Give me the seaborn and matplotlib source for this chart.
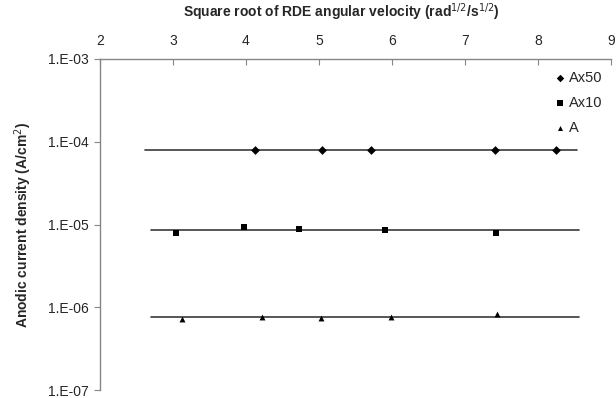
import matplotlib
matplotlib.use("Agg")
import matplotlib.pyplot as plt
import matplotlib.ticker as mticker
import numpy as np
import pandas as pd
import seaborn as sns

# Measured anodic current densities vs sqrt(omega)
series_names = ["Ax50", "Ax10", "A"]
sqrt_omega_ax50 = [4.13, 5.04, 5.71, 7.41, 8.24]
current_ax50 = [7.9e-5, 7.9e-5, 7.9e-5, 7.9e-5, 7.9e-5]
sqrt_omega_ax10 = [3.04, 3.97, 4.73, 5.90, 7.42]
current_ax10 = [8.0e-6, 9.2e-6, 8.8e-6, 8.5e-6, 7.9e-6]
sqrt_omega_a = [3.12, 4.22, 5.03, 5.99, 7.44]
current_a = [7.2e-7, 7.6e-7, 7.4e-7, 7.6e-7, 8.3e-7]

# Horizontal trend lines (x extent and level)
trend_x_ax50 = [2.62, 8.53]
trend_y_ax50 = [7.9e-5, 7.9e-5]
trend_x_ax10 = [2.70, 8.56]
trend_y_ax10 = [8.5e-6, 8.5e-6]
trend_x_a = [2.70, 8.56]
trend_y_a = [7.7e-7, 7.7e-7]

x_ticks = [2, 3, 4, 5, 6, 7, 8, 9]
y_ticks = [1e-7, 1e-6, 1e-5, 1e-4, 1e-3]

sns.set_theme(style="white")
plt.rcParams["font.family"] = ["Liberation Sans", "DejaVu Sans"]

points = pd.concat([
    pd.DataFrame({"x": sqrt_omega_ax50, "y": current_ax50, "series": "Ax50"}),
    pd.DataFrame({"x": sqrt_omega_ax10, "y": current_ax10, "series": "Ax10"}),
    pd.DataFrame({"x": sqrt_omega_a, "y": current_a, "series": "A"}),
], ignore_index=True)

trends = pd.concat([
    pd.DataFrame({"x": trend_x_ax50, "y": trend_y_ax50, "series": "Ax50"}),
    pd.DataFrame({"x": trend_x_ax10, "y": trend_y_ax10, "series": "Ax10"}),
    pd.DataFrame({"x": trend_x_a, "y": trend_y_a, "series": "A"}),
], ignore_index=True)

fig = plt.figure(figsize=(6.16, 3.98), dpi=100)
ax = fig.add_axes([100 / 616, 1 - 390 / 398, 511 / 616, 331 / 398])
ax.set_yscale("log")

sns.lineplot(data=trends, x="x", y="y", units="series", estimator=None,
             color="#3a3a3a", linewidth=1.2, legend=False, ax=ax, zorder=2)

marker_map = {"Ax50": "D", "Ax10": "s", "A": "^"}
size_map = {"Ax50": 20, "Ax10": 22, "A": 18}
for name in series_names:
    sub = points[points["series"] == name]
    sns.scatterplot(data=sub, x="x", y="y", marker=marker_map[name],
                    s=size_map[name], color="black", edgecolor="black",
                    linewidth=0, label=name, ax=ax, zorder=3)

ax.set_xlim(2, 9)
ax.set_ylim(1e-7, 1e-3)
ax.set_xticks(x_ticks)
ax.set_xticklabels([str(t) for t in x_ticks])
ax.set_yticks(y_ticks)
ax.yaxis.set_major_formatter(mticker.FuncFormatter(
    lambda v, p: "1.E-%02d" % int(round(-np.log10(v)))))
ax.yaxis.set_minor_locator(mticker.NullLocator())

ax.xaxis.set_label_position("top")
ax.xaxis.tick_top()
ax.tick_params(axis="x", direction="in", length=4, width=0.8, color="#868686",
               labelsize=10, pad=8, top=True, bottom=False)
ax.tick_params(axis="y", direction="out", length=4, width=0.8, color="#868686",
               labelsize=10, pad=4, left=True)

for side in ["right", "bottom"]:
    ax.spines[side].set_visible(False)
for side in ["left", "top"]:
    ax.spines[side].set_color("#868686")
    ax.spines[side].set_linewidth(1.0)

ax.set_xlabel("Square root of RDE angular velocity (rad$^{1/2}$/s$^{1/2}$)",
              fontsize=10, fontweight="bold")
ax.xaxis.set_label_coords(0.473, 1.11)
ax.xaxis.label.set_verticalalignment("bottom")
ax.set_ylabel("Anodic current density (A/cm$^{2}$)",
              fontsize=10, fontweight="bold", labelpad=10)

leg = ax.legend(loc="upper right", bbox_to_anchor=(1.0, 0.99), frameon=False,
                fontsize=10.5, handletextpad=0.1, labelspacing=0.75,
                handlelength=1.0, borderaxespad=0.2, markerscale=0.85)

fig.savefig("out.png", dpi=100)
